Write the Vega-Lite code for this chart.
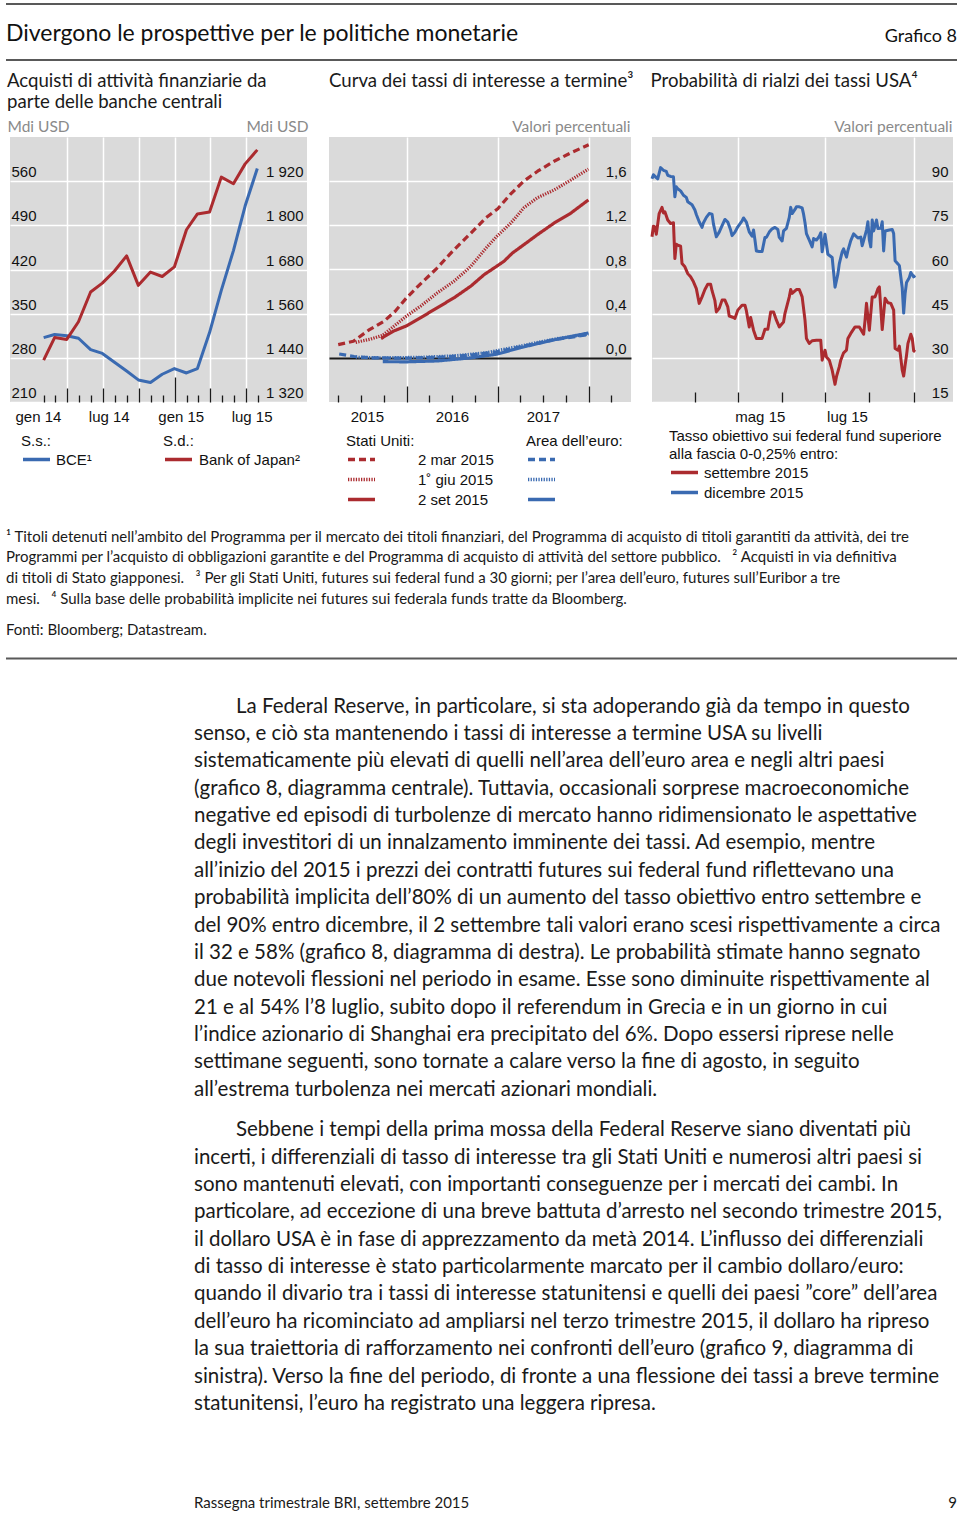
{
  "$schema": "https://vega.github.io/schema/vega-lite/v6.json",
  "background": "#ffffff",
  "padding": {"left": 5, "top": 3, "right": 4, "bottom": 0},
  "spacing": 0,
  "resolve": {"scale": {"color": "independent", "strokeDash": "independent"}},
  "config": {
    "view": {"stroke": null},
    "locale": {"number": {"decimal": ",", "thousands": " ", "grouping": [3], "currency": ["", " €"]}},
    "font": "Liberation Sans",
    "line": {"strokeJoin": "round"},
    "axis": {"domain": false, "labelFont": "Liberation Sans", "labelFontSize": 15, "labelColor": "#111111", "gridColor": "#ffffff", "gridWidth": 1.5, "tickColor": "#1a1a1a", "tickWidth": 1.3, "titleFont": "Lato", "titleFontSize": 15.5, "titleFontWeight": "normal", "titleColor": "#8a8a8a", "labelFlush": false, "labelOverlap": false},
    "legend": {"orient": "none", "titleFont": "Liberation Sans", "titleFontSize": 15, "titleFontWeight": "normal", "titleColor": "#111111", "titleLimit": 400, "labelFont": "Liberation Sans", "labelFontSize": 15, "labelColor": "#111111", "symbolType": "stroke", "symbolStrokeWidth": 3.5, "symbolSize": 729, "clipHeight": 15, "rowPadding": 4, "titlePadding": 3, "padding": 0, "labelLimit": 400, "labelOffset": 5},
    "title": {"font": "Lato", "fontSize": 18.6, "fontWeight": "normal", "color": "#1a1a1a", "anchor": "start", "lineHeight": 21}
  },
  "vconcat": [
    {
      "width": 951, "height": 68,
      "data": {"values": [{"testo": "Divergono le prospettive per le politiche monetarie", "lato": "sinistra"}, {"testo": "Grafico 8", "lato": "destra"}]},
      "layer": [
        {"transform": [{"filter": "datum.lato === 'sinistra'"}], "mark": {"type": "rule", "color": "#595959", "strokeWidth": 2},
         "encoding": {"y": {"datum": 1, "type": "quantitative", "scale": {"domain": [0, 1]}, "axis": null}}},
        {"transform": [{"filter": "datum.lato === 'sinistra'"}], "mark": {"type": "rule", "color": "#595959", "strokeWidth": 2},
         "encoding": {"y": {"datum": 0.1765, "type": "quantitative", "scale": {"domain": [0, 1]}, "axis": null}}},
        {"transform": [{"filter": "datum.lato === 'sinistra'"}], "mark": {"type": "text", "align": "left", "baseline": "alphabetic", "font": "Lato", "fontSize": 23, "color": "#111111"},
         "encoding": {"text": {"field": "testo"}, "x": {"datum": 0, "type": "quantitative", "scale": {"domain": [0, 1]}, "axis": null}, "y": {"datum": 0.4559, "type": "quantitative", "scale": {"domain": [0, 1]}, "axis": null}}},
        {"transform": [{"filter": "datum.lato === 'destra'"}], "mark": {"type": "text", "align": "right", "baseline": "alphabetic", "font": "Lato", "fontSize": 18, "color": "#111111"},
         "encoding": {"text": {"field": "testo"}, "x": {"datum": 1, "type": "quantitative", "scale": {"domain": [0, 1]}, "axis": null}, "y": {"datum": 0.4485, "type": "quantitative", "scale": {"domain": [0, 1]}, "axis": null}}}
      ]
    },
    {
      "hconcat": [
        {"width": 1, "height": 1, "data": {"values": []}, "mark": "text"},
        {
          "width": 297, "height": 265,
          "view": {"fill": "#dadada", "stroke": null},
          "title": {"text": ["Acquisti di attività finanziarie da", "parte delle banche centrali"], "offset": 7},
          "data": {"values": [
            {"data": "2014-01-31", "banca": "BCE", "miliardi": 312}, {"data": "2014-02-28", "banca": "BCE", "miliardi": 317},
            {"data": "2014-03-31", "banca": "BCE", "miliardi": 315}, {"data": "2014-04-30", "banca": "BCE", "miliardi": 311},
            {"data": "2014-05-31", "banca": "BCE", "miliardi": 293}, {"data": "2014-06-30", "banca": "BCE", "miliardi": 287},
            {"data": "2014-07-31", "banca": "BCE", "miliardi": 273}, {"data": "2014-08-31", "banca": "BCE", "miliardi": 259},
            {"data": "2014-09-30", "banca": "BCE", "miliardi": 245}, {"data": "2014-10-31", "banca": "BCE", "miliardi": 241},
            {"data": "2014-11-30", "banca": "BCE", "miliardi": 254}, {"data": "2014-12-31", "banca": "BCE", "miliardi": 263},
            {"data": "2015-01-31", "banca": "BCE", "miliardi": 256}, {"data": "2015-02-28", "banca": "BCE", "miliardi": 263},
            {"data": "2015-03-31", "banca": "BCE", "miliardi": 320}, {"data": "2015-04-30", "banca": "BCE", "miliardi": 387},
            {"data": "2015-05-31", "banca": "BCE", "miliardi": 450}, {"data": "2015-06-30", "banca": "BCE", "miliardi": 521},
            {"data": "2015-07-31", "banca": "BCE", "miliardi": 580},
            {"data": "2014-01-31", "banca": "Bank of Japan", "miliardi": 1434}, {"data": "2014-02-28", "banca": "Bank of Japan", "miliardi": 1495},
            {"data": "2014-03-31", "banca": "Bank of Japan", "miliardi": 1490}, {"data": "2014-04-30", "banca": "Bank of Japan", "miliardi": 1538},
            {"data": "2014-05-31", "banca": "Bank of Japan", "miliardi": 1619}, {"data": "2014-06-30", "banca": "Bank of Japan", "miliardi": 1643},
            {"data": "2014-07-31", "banca": "Bank of Japan", "miliardi": 1676}, {"data": "2014-08-31", "banca": "Bank of Japan", "miliardi": 1717},
            {"data": "2014-09-30", "banca": "Bank of Japan", "miliardi": 1637}, {"data": "2014-10-31", "banca": "Bank of Japan", "miliardi": 1673},
            {"data": "2014-11-30", "banca": "Bank of Japan", "miliardi": 1661}, {"data": "2014-12-31", "banca": "Bank of Japan", "miliardi": 1687},
            {"data": "2015-01-31", "banca": "Bank of Japan", "miliardi": 1788}, {"data": "2015-02-28", "banca": "Bank of Japan", "miliardi": 1831},
            {"data": "2015-03-31", "banca": "Bank of Japan", "miliardi": 1836}, {"data": "2015-04-30", "banca": "Bank of Japan", "miliardi": 1931},
            {"data": "2015-05-31", "banca": "Bank of Japan", "miliardi": 1913}, {"data": "2015-06-30", "banca": "Bank of Japan", "miliardi": 1967},
            {"data": "2015-07-31", "banca": "Bank of Japan", "miliardi": 2005}
          ]},
          "encoding": {
            "x": {"field": "data", "type": "temporal", "title": null,
              "scale": {"domain": [{"year": 2013, "month": 11, "date": 6}, {"year": 2015, "month": 12, "date": 5}]},
              "axis": {"grid": true, "title": null,
                "values": [
                  {"year": 2014, "month": 1, "date": 1}, {"year": 2014, "month": 2, "date": 1}, {"year": 2014, "month": 3, "date": 1},
                  {"year": 2014, "month": 4, "date": 1}, {"year": 2014, "month": 5, "date": 1}, {"year": 2014, "month": 6, "date": 1},
                  {"year": 2014, "month": 7, "date": 1}, {"year": 2014, "month": 8, "date": 1}, {"year": 2014, "month": 9, "date": 1},
                  {"year": 2014, "month": 10, "date": 1}, {"year": 2014, "month": 11, "date": 1}, {"year": 2014, "month": 12, "date": 1},
                  {"year": 2015, "month": 1, "date": 1}, {"year": 2015, "month": 2, "date": 1}, {"year": 2015, "month": 3, "date": 1},
                  {"year": 2015, "month": 4, "date": 1}, {"year": 2015, "month": 5, "date": 1}, {"year": 2015, "month": 6, "date": 1},
                  {"year": 2015, "month": 7, "date": 1}, {"year": 2015, "month": 8, "date": 1}
                ],
                "tickSize": {"expr": "month(datum.value) == 0 ? -25 : (month(datum.value) % 3 == 0 ? -14 : -7)"},
                "tickOpacity": {"condition": {"test": "datum.value < datetime(2014, 0, 15)", "value": 0}, "value": 1},
                "gridOpacity": {"condition": {"test": "month(datum.value) % 3 == 0 && datum.value > datetime(2014, 0, 15)", "value": 1}, "value": 0},
                "labelExpr": "month(datum.value) == 0 ? 'gen ' + timeFormat(datum.value, '%y') : (month(datum.value) == 6 ? 'lug ' + timeFormat(datum.value, '%y') : '')",
                "labelAlign": "center", "labelBaseline": "top", "labelOffset": 6,
                "labelPadding": {"expr": "month(datum.value) == 0 ? 32 : (month(datum.value) % 3 == 0 ? 21 : 14)"}}}
          },
          "layer": [
            {"transform": [{"filter": "datum.banca === 'BCE'"}],
             "mark": {"type": "line", "strokeWidth": 3},
             "encoding": {
               "y": {"field": "miliardi", "type": "quantitative", "scale": {"domain": [210, 630]},
                 "axis": {"orient": "left", "values": [210, 280, 350, 420, 490, 560], "grid": true, "ticks": false, "tickSize": 0,
                   "labelAlign": "left", "labelBaseline": "alphabetic", "labelPadding": -1, "labelOffset": -4.5,
                   "title": "Mdi USD", "titleAngle": 0, "titleAlign": "left", "titleBaseline": "alphabetic", "titleX": -3, "titleY": -6}},
               "color": {"field": "banca", "type": "nominal", "scale": {"range": ["#3a6ab1"]},
                 "legend": {"title": "S.s.:", "legendX": 11, "legendY": 297, "labelOffset": 4, "labelExpr": "'BCE¹'"}}}},
            {"transform": [{"filter": "datum.banca === 'Bank of Japan'"}],
             "mark": {"type": "line", "strokeWidth": 3},
             "encoding": {
               "y": {"field": "miliardi", "type": "quantitative", "scale": {"domain": [1320, 2040]},
                 "axis": {"orient": "right", "values": [1320, 1440, 1560, 1680, 1800, 1920], "format": ",d", "grid": false, "ticks": false, "tickSize": 0,
                   "labelAlign": "right", "labelBaseline": "alphabetic", "labelPadding": -4, "labelOffset": -4.5,
                   "title": "Mdi USD", "titleAngle": 0, "titleAlign": "right", "titleBaseline": "alphabetic", "titleX": 1, "titleY": -6}},
               "color": {"field": "banca", "type": "nominal", "scale": {"range": ["#ab2b2f"]},
                 "legend": {"title": "S.d.:", "legendX": 153, "legendY": 297, "labelOffset": 5, "labelExpr": "'Bank of Japan²'"}}}}
          ],
          "resolve": {"scale": {"y": "independent", "color": "independent"}}
        },
        {"width": 21, "height": 1, "data": {"values": []}, "mark": "text"},
        {
          "width": 302, "height": 265,
          "view": {"fill": "#dadada", "stroke": null},
          "title": {"text": ["Curva dei tassi di interesse a termine³", " "], "offset": 7},
          "data": {"values": [
            {"area": "Stati Uniti", "curva": "2 mar 2015", "data": "2015-04-01", "tasso": 0.12},
            {"area": "Stati Uniti", "curva": "2 mar 2015", "data": "2015-06-01", "tasso": 0.15},
            {"area": "Stati Uniti", "curva": "2 mar 2015", "data": "2015-08-01", "tasso": 0.25},
            {"area": "Stati Uniti", "curva": "2 mar 2015", "data": "2015-10-01", "tasso": 0.33},
            {"area": "Stati Uniti", "curva": "2 mar 2015", "data": "2015-11-15", "tasso": 0.42},
            {"area": "Stati Uniti", "curva": "2 mar 2015", "data": "2016-01-01", "tasso": 0.545},
            {"area": "Stati Uniti", "curva": "2 mar 2015", "data": "2016-03-01", "tasso": 0.68},
            {"area": "Stati Uniti", "curva": "2 mar 2015", "data": "2016-05-01", "tasso": 0.81},
            {"area": "Stati Uniti", "curva": "2 mar 2015", "data": "2016-07-01", "tasso": 0.96},
            {"area": "Stati Uniti", "curva": "2 mar 2015", "data": "2016-09-15", "tasso": 1.13},
            {"area": "Stati Uniti", "curva": "2 mar 2015", "data": "2016-11-15", "tasso": 1.27},
            {"area": "Stati Uniti", "curva": "2 mar 2015", "data": "2017-01-01", "tasso": 1.35},
            {"area": "Stati Uniti", "curva": "2 mar 2015", "data": "2017-02-20", "tasso": 1.48},
            {"area": "Stati Uniti", "curva": "2 mar 2015", "data": "2017-04-15", "tasso": 1.6},
            {"area": "Stati Uniti", "curva": "2 mar 2015", "data": "2017-06-10", "tasso": 1.69},
            {"area": "Stati Uniti", "curva": "2 mar 2015", "data": "2017-08-15", "tasso": 1.78},
            {"area": "Stati Uniti", "curva": "2 mar 2015", "data": "2017-10-20", "tasso": 1.855},
            {"area": "Stati Uniti", "curva": "2 mar 2015", "data": "2018-01-01", "tasso": 1.93},
            {"area": "Stati Uniti", "curva": "1˚ giu 2015", "data": "2015-06-10", "tasso": 0.14},
            {"area": "Stati Uniti", "curva": "1˚ giu 2015", "data": "2015-08-10", "tasso": 0.17},
            {"area": "Stati Uniti", "curva": "1˚ giu 2015", "data": "2015-09-27", "tasso": 0.205},
            {"area": "Stati Uniti", "curva": "1˚ giu 2015", "data": "2016-01-01", "tasso": 0.38},
            {"area": "Stati Uniti", "curva": "1˚ giu 2015", "data": "2016-02-27", "tasso": 0.47},
            {"area": "Stati Uniti", "curva": "1˚ giu 2015", "data": "2016-05-04", "tasso": 0.59},
            {"area": "Stati Uniti", "curva": "1˚ giu 2015", "data": "2016-07-10", "tasso": 0.695},
            {"area": "Stati Uniti", "curva": "1˚ giu 2015", "data": "2016-09-15", "tasso": 0.83},
            {"area": "Stati Uniti", "curva": "1˚ giu 2015", "data": "2016-11-21", "tasso": 1.01},
            {"area": "Stati Uniti", "curva": "1˚ giu 2015", "data": "2016-12-28", "tasso": 1.1},
            {"area": "Stati Uniti", "curva": "1˚ giu 2015", "data": "2017-02-22", "tasso": 1.22},
            {"area": "Stati Uniti", "curva": "1˚ giu 2015", "data": "2017-04-16", "tasso": 1.36},
            {"area": "Stati Uniti", "curva": "1˚ giu 2015", "data": "2017-06-09", "tasso": 1.45},
            {"area": "Stati Uniti", "curva": "1˚ giu 2015", "data": "2017-08-15", "tasso": 1.52},
            {"area": "Stati Uniti", "curva": "1˚ giu 2015", "data": "2017-10-21", "tasso": 1.61},
            {"area": "Stati Uniti", "curva": "1˚ giu 2015", "data": "2017-12-31", "tasso": 1.71},
            {"area": "Stati Uniti", "curva": "2 set 2015", "data": "2015-09-20", "tasso": 0.175},
            {"area": "Stati Uniti", "curva": "2 set 2015", "data": "2015-11-12", "tasso": 0.245},
            {"area": "Stati Uniti", "curva": "2 set 2015", "data": "2016-01-01", "tasso": 0.29},
            {"area": "Stati Uniti", "curva": "2 set 2015", "data": "2016-02-27", "tasso": 0.365},
            {"area": "Stati Uniti", "curva": "2 set 2015", "data": "2016-05-04", "tasso": 0.455},
            {"area": "Stati Uniti", "curva": "2 set 2015", "data": "2016-07-10", "tasso": 0.545},
            {"area": "Stati Uniti", "curva": "2 set 2015", "data": "2016-09-15", "tasso": 0.65},
            {"area": "Stati Uniti", "curva": "2 set 2015", "data": "2016-11-08", "tasso": 0.755},
            {"area": "Stati Uniti", "curva": "2 set 2015", "data": "2016-12-28", "tasso": 0.83},
            {"area": "Stati Uniti", "curva": "2 set 2015", "data": "2017-01-26", "tasso": 0.875},
            {"area": "Stati Uniti", "curva": "2 set 2015", "data": "2017-03-01", "tasso": 0.95},
            {"area": "Stati Uniti", "curva": "2 set 2015", "data": "2017-04-16", "tasso": 1.025},
            {"area": "Stati Uniti", "curva": "2 set 2015", "data": "2017-06-09", "tasso": 1.115},
            {"area": "Stati Uniti", "curva": "2 set 2015", "data": "2017-08-15", "tasso": 1.22},
            {"area": "Stati Uniti", "curva": "2 set 2015", "data": "2017-10-21", "tasso": 1.31},
            {"area": "Stati Uniti", "curva": "2 set 2015", "data": "2017-12-31", "tasso": 1.43},
            {"area": "Area dell’euro", "curva": "2 mar 2015", "data": "2015-04-05", "tasso": 0.035},
            {"area": "Area dell’euro", "curva": "2 mar 2015", "data": "2015-06-04", "tasso": 0.012},
            {"area": "Area dell’euro", "curva": "2 mar 2015", "data": "2015-08-10", "tasso": 0.0},
            {"area": "Area dell’euro", "curva": "2 mar 2015", "data": "2015-12-31", "tasso": -0.003},
            {"area": "Area dell’euro", "curva": "2 mar 2015", "data": "2016-05-04", "tasso": 0.005},
            {"area": "Area dell’euro", "curva": "2 mar 2015", "data": "2016-09-15", "tasso": 0.025},
            {"area": "Area dell’euro", "curva": "2 mar 2015", "data": "2016-12-28", "tasso": 0.055},
            {"area": "Area dell’euro", "curva": "2 mar 2015", "data": "2017-04-03", "tasso": 0.1},
            {"area": "Area dell’euro", "curva": "2 mar 2015", "data": "2017-08-15", "tasso": 0.165},
            {"area": "Area dell’euro", "curva": "2 mar 2015", "data": "2017-12-31", "tasso": 0.21},
            {"area": "Area dell’euro", "curva": "1˚ giu 2015", "data": "2015-06-11", "tasso": 0.006},
            {"area": "Area dell’euro", "curva": "1˚ giu 2015", "data": "2015-09-27", "tasso": 0.0},
            {"area": "Area dell’euro", "curva": "1˚ giu 2015", "data": "2016-02-27", "tasso": 0.005},
            {"area": "Area dell’euro", "curva": "1˚ giu 2015", "data": "2016-07-10", "tasso": 0.018},
            {"area": "Area dell’euro", "curva": "1˚ giu 2015", "data": "2016-11-21", "tasso": 0.048},
            {"area": "Area dell’euro", "curva": "1˚ giu 2015", "data": "2017-04-03", "tasso": 0.108},
            {"area": "Area dell’euro", "curva": "1˚ giu 2015", "data": "2017-08-15", "tasso": 0.17},
            {"area": "Area dell’euro", "curva": "1˚ giu 2015", "data": "2017-12-31", "tasso": 0.215},
            {"area": "Area dell’euro", "curva": "2 set 2015", "data": "2015-09-27", "tasso": -0.035},
            {"area": "Area dell’euro", "curva": "2 set 2015", "data": "2016-01-01", "tasso": -0.036},
            {"area": "Area dell’euro", "curva": "2 set 2015", "data": "2016-05-04", "tasso": -0.028},
            {"area": "Area dell’euro", "curva": "2 set 2015", "data": "2016-09-15", "tasso": 0.0},
            {"area": "Area dell’euro", "curva": "2 set 2015", "data": "2016-12-28", "tasso": 0.033},
            {"area": "Area dell’euro", "curva": "2 set 2015", "data": "2017-04-03", "tasso": 0.093},
            {"area": "Area dell’euro", "curva": "2 set 2015", "data": "2017-08-15", "tasso": 0.163},
            {"area": "Area dell’euro", "curva": "2 set 2015", "data": "2017-12-31", "tasso": 0.225}
          ]},
          "encoding": {
            "x": {"field": "data", "type": "temporal", "title": null,
              "scale": {"domain": [{"year": 2015, "month": 2, "date": 23}, {"year": 2018, "month": 6, "date": 20}]},
              "axis": {"grid": true, "title": null, "tickCount": {"interval": "month", "step": 3},
                "tickSize": {"expr": "month(datum.value) == 0 ? -16 : -7"},
                "gridOpacity": {"condition": {"test": "month(datum.value) == 0", "value": 1}, "value": 0},
                "labelExpr": "month(datum.value) == 6 ? timeFormat(datum.value, '%Y') : ''",
                "labelAlign": "center", "labelBaseline": "top",
                "labelOffset": {"condition": {"test": "year(datum.value) == 2015", "value": 6}, "value": 0},
                "labelPadding": 14}},
            "y": {"field": "tasso", "type": "quantitative", "scale": {"domain": [-0.4, 2.0]},
              "axis": {"orient": "right", "values": [0, 0.4, 0.8, 1.2, 1.6], "format": ".1f", "grid": true,
                "gridColor": {"condition": {"test": "datum.value === 0", "value": "#1a1a1a"}, "value": "#ffffff"},
                "gridWidth": {"condition": {"test": "datum.value === 0", "value": 2}, "value": 1.5},
                "ticks": false, "tickSize": 0, "labelAlign": "right", "labelBaseline": "alphabetic", "labelPadding": -5, "labelOffset": -4.5,
                "title": "Valori percentuali", "titleAngle": 0, "titleAlign": "right", "titleBaseline": "alphabetic", "titleX": -1, "titleY": -6}}
          },
          "layer": [
            {"transform": [{"filter": "datum.area === 'Stati Uniti'"}],
             "mark": {"type": "line", "strokeWidth": 3.2, "color": "#ab2b2f"},
             "encoding": {"strokeDash": {"field": "curva", "type": "nominal",
               "scale": {"domain": ["2 mar 2015", "1˚ giu 2015", "2 set 2015"], "range": [[7, 4], [1.3, 1.3], [1, 0]]},
               "legend": {"title": "Stati Uniti:", "legendX": 17, "legendY": 297, "labelOffset": 41, "symbolStrokeColor": "#ab2b2f"}}}},
            {"transform": [{"filter": "datum.area !== 'Stati Uniti'"}],
             "mark": {"type": "line", "strokeWidth": 3.2, "color": "#3a6ab1"},
             "encoding": {"strokeDash": {"field": "curva", "type": "nominal",
               "scale": {"domain": ["2 mar 2015", "1˚ giu 2015", "2 set 2015"], "range": [[7, 4], [1.3, 1.3], [1, 0]]},
               "legend": {"title": "Area dell’euro:", "legendX": 197, "legendY": 297, "labelExpr": "''", "symbolStrokeColor": "#3a6ab1"}}}}
          ],
          "resolve": {"scale": {"strokeDash": "independent"}}
        },
        {"width": 16, "height": 1, "data": {"values": []}, "mark": "text"},
        {
          "width": 301, "height": 265,
          "view": {"fill": "#dadada", "stroke": null},
          "title": {"text": ["Probabilità di rialzi dei tassi USA⁴", " "], "offset": 7},
          "data": {"values": [
            {"data": "2015-03-02", "scadenza": "dicembre 2015", "probabilita": 90.8},
            {"data": "2015-03-03", "scadenza": "dicembre 2015", "probabilita": 92.2},
            {"data": "2015-03-05", "scadenza": "dicembre 2015", "probabilita": 91.2},
            {"data": "2015-03-06", "scadenza": "dicembre 2015", "probabilita": 90.8},
            {"data": "2015-03-08", "scadenza": "dicembre 2015", "probabilita": 94.6},
            {"data": "2015-03-10", "scadenza": "dicembre 2015", "probabilita": 93.7},
            {"data": "2015-03-12", "scadenza": "dicembre 2015", "probabilita": 93.3},
            {"data": "2015-03-13", "scadenza": "dicembre 2015", "probabilita": 92.0},
            {"data": "2015-03-15", "scadenza": "dicembre 2015", "probabilita": 91.6},
            {"data": "2015-03-17", "scadenza": "dicembre 2015", "probabilita": 91.5},
            {"data": "2015-03-18", "scadenza": "dicembre 2015", "probabilita": 84.7},
            {"data": "2015-03-19", "scadenza": "dicembre 2015", "probabilita": 88.1},
            {"data": "2015-03-20", "scadenza": "dicembre 2015", "probabilita": 87.4},
            {"data": "2015-03-22", "scadenza": "dicembre 2015", "probabilita": 86.7},
            {"data": "2015-03-24", "scadenza": "dicembre 2015", "probabilita": 85.2},
            {"data": "2015-03-26", "scadenza": "dicembre 2015", "probabilita": 84.5},
            {"data": "2015-03-27", "scadenza": "dicembre 2015", "probabilita": 83.0},
            {"data": "2015-03-30", "scadenza": "dicembre 2015", "probabilita": 82.0},
            {"data": "2015-04-01", "scadenza": "dicembre 2015", "probabilita": 80.2},
            {"data": "2015-04-02", "scadenza": "dicembre 2015", "probabilita": 78.7},
            {"data": "2015-04-04", "scadenza": "dicembre 2015", "probabilita": 76.2},
            {"data": "2015-04-06", "scadenza": "dicembre 2015", "probabilita": 74.3},
            {"data": "2015-04-07", "scadenza": "dicembre 2015", "probabilita": 75.9},
            {"data": "2015-04-09", "scadenza": "dicembre 2015", "probabilita": 77.7},
            {"data": "2015-04-11", "scadenza": "dicembre 2015", "probabilita": 79.0},
            {"data": "2015-04-13", "scadenza": "dicembre 2015", "probabilita": 78.8},
            {"data": "2015-04-14", "scadenza": "dicembre 2015", "probabilita": 75.4},
            {"data": "2015-04-16", "scadenza": "dicembre 2015", "probabilita": 71.1},
            {"data": "2015-04-18", "scadenza": "dicembre 2015", "probabilita": 72.7},
            {"data": "2015-04-20", "scadenza": "dicembre 2015", "probabilita": 74.9},
            {"data": "2015-04-22", "scadenza": "dicembre 2015", "probabilita": 77.0},
            {"data": "2015-04-24", "scadenza": "dicembre 2015", "probabilita": 76.1},
            {"data": "2015-04-26", "scadenza": "dicembre 2015", "probabilita": 73.4},
            {"data": "2015-04-27", "scadenza": "dicembre 2015", "probabilita": 71.5},
            {"data": "2015-04-29", "scadenza": "dicembre 2015", "probabilita": 72.7},
            {"data": "2015-05-01", "scadenza": "dicembre 2015", "probabilita": 74.5},
            {"data": "2015-05-04", "scadenza": "dicembre 2015", "probabilita": 76.5},
            {"data": "2015-05-05", "scadenza": "dicembre 2015", "probabilita": 77.5},
            {"data": "2015-05-07", "scadenza": "dicembre 2015", "probabilita": 76.1},
            {"data": "2015-05-09", "scadenza": "dicembre 2015", "probabilita": 72.8},
            {"data": "2015-05-11", "scadenza": "dicembre 2015", "probabilita": 71.3},
            {"data": "2015-05-12", "scadenza": "dicembre 2015", "probabilita": 73.4},
            {"data": "2015-05-13", "scadenza": "dicembre 2015", "probabilita": 70.0},
            {"data": "2015-05-14", "scadenza": "dicembre 2015", "probabilita": 66.3},
            {"data": "2015-05-16", "scadenza": "dicembre 2015", "probabilita": 66.1},
            {"data": "2015-05-18", "scadenza": "dicembre 2015", "probabilita": 66.1},
            {"data": "2015-05-20", "scadenza": "dicembre 2015", "probabilita": 70.9},
            {"data": "2015-05-21", "scadenza": "dicembre 2015", "probabilita": 70.9},
            {"data": "2015-05-23", "scadenza": "dicembre 2015", "probabilita": 72.7},
            {"data": "2015-05-25", "scadenza": "dicembre 2015", "probabilita": 73.8},
            {"data": "2015-05-27", "scadenza": "dicembre 2015", "probabilita": 74.3},
            {"data": "2015-05-29", "scadenza": "dicembre 2015", "probabilita": 73.6},
            {"data": "2015-05-30", "scadenza": "dicembre 2015", "probabilita": 70.9},
            {"data": "2015-06-01", "scadenza": "dicembre 2015", "probabilita": 69.7},
            {"data": "2015-06-02", "scadenza": "dicembre 2015", "probabilita": 73.1},
            {"data": "2015-06-04", "scadenza": "dicembre 2015", "probabilita": 74.0},
            {"data": "2015-06-06", "scadenza": "dicembre 2015", "probabilita": 77.7},
            {"data": "2015-06-07", "scadenza": "dicembre 2015", "probabilita": 81.1},
            {"data": "2015-06-08", "scadenza": "dicembre 2015", "probabilita": 79.0},
            {"data": "2015-06-10", "scadenza": "dicembre 2015", "probabilita": 80.4},
            {"data": "2015-06-11", "scadenza": "dicembre 2015", "probabilita": 81.3},
            {"data": "2015-06-13", "scadenza": "dicembre 2015", "probabilita": 81.3},
            {"data": "2015-06-15", "scadenza": "dicembre 2015", "probabilita": 80.9},
            {"data": "2015-06-16", "scadenza": "dicembre 2015", "probabilita": 78.8},
            {"data": "2015-06-17", "scadenza": "dicembre 2015", "probabilita": 75.9},
            {"data": "2015-06-18", "scadenza": "dicembre 2015", "probabilita": 72.2},
            {"data": "2015-06-20", "scadenza": "dicembre 2015", "probabilita": 70.0},
            {"data": "2015-06-22", "scadenza": "dicembre 2015", "probabilita": 67.7},
            {"data": "2015-06-23", "scadenza": "dicembre 2015", "probabilita": 70.5},
            {"data": "2015-06-25", "scadenza": "dicembre 2015", "probabilita": 70.0},
            {"data": "2015-06-27", "scadenza": "dicembre 2015", "probabilita": 71.3},
            {"data": "2015-06-28", "scadenza": "dicembre 2015", "probabilita": 72.5},
            {"data": "2015-06-29", "scadenza": "dicembre 2015", "probabilita": 66.0},
            {"data": "2015-07-01", "scadenza": "dicembre 2015", "probabilita": 72.0},
            {"data": "2015-07-02", "scadenza": "dicembre 2015", "probabilita": 68.6},
            {"data": "2015-07-03", "scadenza": "dicembre 2015", "probabilita": 65.2},
            {"data": "2015-07-06", "scadenza": "dicembre 2015", "probabilita": 64.1},
            {"data": "2015-07-07", "scadenza": "dicembre 2015", "probabilita": 59.0},
            {"data": "2015-07-08", "scadenza": "dicembre 2015", "probabilita": 54.0},
            {"data": "2015-07-10", "scadenza": "dicembre 2015", "probabilita": 58.5},
            {"data": "2015-07-11", "scadenza": "dicembre 2015", "probabilita": 62.0},
            {"data": "2015-07-13", "scadenza": "dicembre 2015", "probabilita": 66.0},
            {"data": "2015-07-14", "scadenza": "dicembre 2015", "probabilita": 67.0},
            {"data": "2015-07-16", "scadenza": "dicembre 2015", "probabilita": 64.2},
            {"data": "2015-07-17", "scadenza": "dicembre 2015", "probabilita": 66.4},
            {"data": "2015-07-19", "scadenza": "dicembre 2015", "probabilita": 69.8},
            {"data": "2015-07-21", "scadenza": "dicembre 2015", "probabilita": 72.1},
            {"data": "2015-07-24", "scadenza": "dicembre 2015", "probabilita": 70.7},
            {"data": "2015-07-26", "scadenza": "dicembre 2015", "probabilita": 71.0},
            {"data": "2015-07-27", "scadenza": "dicembre 2015", "probabilita": 68.1},
            {"data": "2015-07-28", "scadenza": "dicembre 2015", "probabilita": 69.8},
            {"data": "2015-07-30", "scadenza": "dicembre 2015", "probabilita": 73.4},
            {"data": "2015-07-31", "scadenza": "dicembre 2015", "probabilita": 76.2},
            {"data": "2015-08-01", "scadenza": "dicembre 2015", "probabilita": 70.0},
            {"data": "2015-08-02", "scadenza": "dicembre 2015", "probabilita": 67.7},
            {"data": "2015-08-03", "scadenza": "dicembre 2015", "probabilita": 76.8},
            {"data": "2015-08-04", "scadenza": "dicembre 2015", "probabilita": 73.1},
            {"data": "2015-08-06", "scadenza": "dicembre 2015", "probabilita": 76.8},
            {"data": "2015-08-07", "scadenza": "dicembre 2015", "probabilita": 73.9},
            {"data": "2015-08-09", "scadenza": "dicembre 2015", "probabilita": 74.0},
            {"data": "2015-08-10", "scadenza": "dicembre 2015", "probabilita": 76.2},
            {"data": "2015-08-11", "scadenza": "dicembre 2015", "probabilita": 66.3},
            {"data": "2015-08-12", "scadenza": "dicembre 2015", "probabilita": 73.1},
            {"data": "2015-08-15", "scadenza": "dicembre 2015", "probabilita": 73.4},
            {"data": "2015-08-17", "scadenza": "dicembre 2015", "probabilita": 73.6},
            {"data": "2015-08-18", "scadenza": "dicembre 2015", "probabilita": 72.2},
            {"data": "2015-08-19", "scadenza": "dicembre 2015", "probabilita": 63.0},
            {"data": "2015-08-21", "scadenza": "dicembre 2015", "probabilita": 61.9},
            {"data": "2015-08-22", "scadenza": "dicembre 2015", "probabilita": 61.3},
            {"data": "2015-08-24", "scadenza": "dicembre 2015", "probabilita": 53.7},
            {"data": "2015-08-25", "scadenza": "dicembre 2015", "probabilita": 45.2},
            {"data": "2015-08-26", "scadenza": "dicembre 2015", "probabilita": 51.7},
            {"data": "2015-08-27", "scadenza": "dicembre 2015", "probabilita": 55.6},
            {"data": "2015-08-29", "scadenza": "dicembre 2015", "probabilita": 57.3},
            {"data": "2015-08-30", "scadenza": "dicembre 2015", "probabilita": 59.0},
            {"data": "2015-09-01", "scadenza": "dicembre 2015", "probabilita": 57.5},
            {"data": "2015-09-02", "scadenza": "dicembre 2015", "probabilita": 58.0},
            {"data": "2015-03-02", "scadenza": "settembre 2015", "probabilita": 71.1},
            {"data": "2015-03-03", "scadenza": "settembre 2015", "probabilita": 74.7},
            {"data": "2015-03-04", "scadenza": "settembre 2015", "probabilita": 74.5},
            {"data": "2015-03-05", "scadenza": "settembre 2015", "probabilita": 72.0},
            {"data": "2015-03-06", "scadenza": "settembre 2015", "probabilita": 75.4},
            {"data": "2015-03-07", "scadenza": "settembre 2015", "probabilita": 79.0},
            {"data": "2015-03-09", "scadenza": "settembre 2015", "probabilita": 81.1},
            {"data": "2015-03-10", "scadenza": "settembre 2015", "probabilita": 79.2},
            {"data": "2015-03-11", "scadenza": "settembre 2015", "probabilita": 79.6},
            {"data": "2015-03-13", "scadenza": "settembre 2015", "probabilita": 76.8},
            {"data": "2015-03-15", "scadenza": "settembre 2015", "probabilita": 75.6},
            {"data": "2015-03-17", "scadenza": "settembre 2015", "probabilita": 75.9},
            {"data": "2015-03-18", "scadenza": "settembre 2015", "probabilita": 63.7},
            {"data": "2015-03-19", "scadenza": "settembre 2015", "probabilita": 68.6},
            {"data": "2015-03-20", "scadenza": "settembre 2015", "probabilita": 68.3},
            {"data": "2015-03-22", "scadenza": "settembre 2015", "probabilita": 67.9},
            {"data": "2015-03-23", "scadenza": "settembre 2015", "probabilita": 62.0},
            {"data": "2015-03-25", "scadenza": "settembre 2015", "probabilita": 60.9},
            {"data": "2015-03-27", "scadenza": "settembre 2015", "probabilita": 58.6},
            {"data": "2015-03-29", "scadenza": "settembre 2015", "probabilita": 57.5},
            {"data": "2015-03-31", "scadenza": "settembre 2015", "probabilita": 55.8},
            {"data": "2015-04-02", "scadenza": "settembre 2015", "probabilita": 53.5},
            {"data": "2015-04-04", "scadenza": "settembre 2015", "probabilita": 48.5},
            {"data": "2015-04-06", "scadenza": "settembre 2015", "probabilita": 50.7},
            {"data": "2015-04-08", "scadenza": "settembre 2015", "probabilita": 53.2},
            {"data": "2015-04-10", "scadenza": "settembre 2015", "probabilita": 55.0},
            {"data": "2015-04-12", "scadenza": "settembre 2015", "probabilita": 55.0},
            {"data": "2015-04-13", "scadenza": "settembre 2015", "probabilita": 52.8},
            {"data": "2015-04-15", "scadenza": "settembre 2015", "probabilita": 49.4},
            {"data": "2015-04-16", "scadenza": "settembre 2015", "probabilita": 45.6},
            {"data": "2015-04-18", "scadenza": "settembre 2015", "probabilita": 46.8},
            {"data": "2015-04-20", "scadenza": "settembre 2015", "probabilita": 49.6},
            {"data": "2015-04-22", "scadenza": "settembre 2015", "probabilita": 49.6},
            {"data": "2015-04-24", "scadenza": "settembre 2015", "probabilita": 47.3},
            {"data": "2015-04-25", "scadenza": "settembre 2015", "probabilita": 44.2},
            {"data": "2015-04-28", "scadenza": "settembre 2015", "probabilita": 43.7},
            {"data": "2015-04-29", "scadenza": "settembre 2015", "probabilita": 43.4},
            {"data": "2015-05-01", "scadenza": "settembre 2015", "probabilita": 46.2},
            {"data": "2015-05-04", "scadenza": "settembre 2015", "probabilita": 47.9},
            {"data": "2015-05-06", "scadenza": "settembre 2015", "probabilita": 47.9},
            {"data": "2015-05-07", "scadenza": "settembre 2015", "probabilita": 46.0},
            {"data": "2015-05-09", "scadenza": "settembre 2015", "probabilita": 40.5},
            {"data": "2015-05-10", "scadenza": "settembre 2015", "probabilita": 43.7},
            {"data": "2015-05-12", "scadenza": "settembre 2015", "probabilita": 39.4},
            {"data": "2015-05-14", "scadenza": "settembre 2015", "probabilita": 36.6},
            {"data": "2015-05-16", "scadenza": "settembre 2015", "probabilita": 36.6},
            {"data": "2015-05-18", "scadenza": "settembre 2015", "probabilita": 36.6},
            {"data": "2015-05-20", "scadenza": "settembre 2015", "probabilita": 39.7},
            {"data": "2015-05-22", "scadenza": "settembre 2015", "probabilita": 39.7},
            {"data": "2015-05-24", "scadenza": "settembre 2015", "probabilita": 45.6},
            {"data": "2015-05-26", "scadenza": "settembre 2015", "probabilita": 45.6},
            {"data": "2015-05-28", "scadenza": "settembre 2015", "probabilita": 42.8},
            {"data": "2015-05-30", "scadenza": "settembre 2015", "probabilita": 40.5},
            {"data": "2015-06-02", "scadenza": "settembre 2015", "probabilita": 42.2},
            {"data": "2015-06-03", "scadenza": "settembre 2015", "probabilita": 45.1},
            {"data": "2015-06-06", "scadenza": "settembre 2015", "probabilita": 50.7},
            {"data": "2015-06-07", "scadenza": "settembre 2015", "probabilita": 53.2},
            {"data": "2015-06-08", "scadenza": "settembre 2015", "probabilita": 51.9},
            {"data": "2015-06-11", "scadenza": "settembre 2015", "probabilita": 53.2},
            {"data": "2015-06-13", "scadenza": "settembre 2015", "probabilita": 53.2},
            {"data": "2015-06-15", "scadenza": "settembre 2015", "probabilita": 50.7},
            {"data": "2015-06-17", "scadenza": "settembre 2015", "probabilita": 42.8},
            {"data": "2015-06-18", "scadenza": "settembre 2015", "probabilita": 36.6},
            {"data": "2015-06-20", "scadenza": "settembre 2015", "probabilita": 34.9},
            {"data": "2015-06-22", "scadenza": "settembre 2015", "probabilita": 35.8},
            {"data": "2015-06-25", "scadenza": "settembre 2015", "probabilita": 36.0},
            {"data": "2015-06-28", "scadenza": "settembre 2015", "probabilita": 36.0},
            {"data": "2015-06-29", "scadenza": "settembre 2015", "probabilita": 29.2},
            {"data": "2015-07-01", "scadenza": "settembre 2015", "probabilita": 32.6},
            {"data": "2015-07-02", "scadenza": "settembre 2015", "probabilita": 30.3},
            {"data": "2015-07-04", "scadenza": "settembre 2015", "probabilita": 29.2},
            {"data": "2015-07-06", "scadenza": "settembre 2015", "probabilita": 25.8},
            {"data": "2015-07-08", "scadenza": "settembre 2015", "probabilita": 21.0},
            {"data": "2015-07-09", "scadenza": "settembre 2015", "probabilita": 23.6},
            {"data": "2015-07-11", "scadenza": "settembre 2015", "probabilita": 27.0},
            {"data": "2015-07-12", "scadenza": "settembre 2015", "probabilita": 29.2},
            {"data": "2015-07-14", "scadenza": "settembre 2015", "probabilita": 31.7},
            {"data": "2015-07-16", "scadenza": "settembre 2015", "probabilita": 32.6},
            {"data": "2015-07-17", "scadenza": "settembre 2015", "probabilita": 36.6},
            {"data": "2015-07-19", "scadenza": "settembre 2015", "probabilita": 38.3},
            {"data": "2015-07-22", "scadenza": "settembre 2015", "probabilita": 40.5},
            {"data": "2015-07-25", "scadenza": "settembre 2015", "probabilita": 40.5},
            {"data": "2015-07-28", "scadenza": "settembre 2015", "probabilita": 38.0},
            {"data": "2015-07-29", "scadenza": "settembre 2015", "probabilita": 42.8},
            {"data": "2015-07-30", "scadenza": "settembre 2015", "probabilita": 48.5},
            {"data": "2015-07-31", "scadenza": "settembre 2015", "probabilita": 43.9},
            {"data": "2015-08-01", "scadenza": "settembre 2015", "probabilita": 39.4},
            {"data": "2015-08-03", "scadenza": "settembre 2015", "probabilita": 50.7},
            {"data": "2015-08-05", "scadenza": "settembre 2015", "probabilita": 50.7},
            {"data": "2015-08-07", "scadenza": "settembre 2015", "probabilita": 53.5},
            {"data": "2015-08-08", "scadenza": "settembre 2015", "probabilita": 54.1},
            {"data": "2015-08-10", "scadenza": "settembre 2015", "probabilita": 39.6},
            {"data": "2015-08-12", "scadenza": "settembre 2015", "probabilita": 50.2},
            {"data": "2015-08-14", "scadenza": "settembre 2015", "probabilita": 48.7},
            {"data": "2015-08-16", "scadenza": "settembre 2015", "probabilita": 48.5},
            {"data": "2015-08-18", "scadenza": "settembre 2015", "probabilita": 46.2},
            {"data": "2015-08-19", "scadenza": "settembre 2015", "probabilita": 33.2},
            {"data": "2015-08-21", "scadenza": "settembre 2015", "probabilita": 32.6},
            {"data": "2015-08-22", "scadenza": "settembre 2015", "probabilita": 34.0},
            {"data": "2015-08-24", "scadenza": "settembre 2015", "probabilita": 25.8},
            {"data": "2015-08-25", "scadenza": "settembre 2015", "probabilita": 23.8},
            {"data": "2015-08-26", "scadenza": "settembre 2015", "probabilita": 27.5},
            {"data": "2015-08-27", "scadenza": "settembre 2015", "probabilita": 30.9},
            {"data": "2015-08-28", "scadenza": "settembre 2015", "probabilita": 34.9},
            {"data": "2015-08-30", "scadenza": "settembre 2015", "probabilita": 38.0},
            {"data": "2015-08-31", "scadenza": "settembre 2015", "probabilita": 36.6},
            {"data": "2015-09-01", "scadenza": "settembre 2015", "probabilita": 32.4},
            {"data": "2015-09-02", "scadenza": "settembre 2015", "probabilita": 32.0}
          ]},
          "mark": {"type": "line", "strokeWidth": 3},
          "encoding": {
            "x": {"field": "data", "type": "temporal", "title": null,
              "scale": {"domain": [{"year": 2015, "month": 3, "date": 2}, {"year": 2015, "month": 9, "date": 28, "hours": 12}]},
              "axis": {"grid": true, "title": null, "tickCount": {"interval": "month", "step": 1}, "tickSize": -10,
                "gridOpacity": {"condition": {"test": "month(datum.value) % 2 == 0", "value": 1}, "value": 0},
                "labelExpr": "month(datum.value) == 4 ? 'mag ' + timeFormat(datum.value, '%y') : (month(datum.value) == 6 ? 'lug ' + timeFormat(datum.value, '%y') : '')",
                "labelAlign": "center", "labelBaseline": "top", "labelOffset": 22, "labelPadding": 17}},
            "y": {"field": "probabilita", "type": "quantitative", "scale": {"domain": [15, 105]},
              "axis": {"orient": "right", "values": [15, 30, 45, 60, 75, 90], "grid": true, "ticks": false, "tickSize": 0,
                "labelAlign": "right", "labelBaseline": "alphabetic", "labelPadding": -5, "labelOffset": -4.5,
                "title": "Valori percentuali", "titleAngle": 0, "titleAlign": "right", "titleBaseline": "alphabetic", "titleX": -1, "titleY": -6}},
            "color": {"field": "scadenza", "type": "nominal",
              "scale": {"domain": ["settembre 2015", "dicembre 2015"], "range": ["#ab2b2f", "#3a6ab1"]},
              "legend": {"title": ["Tasso obiettivo sui federal fund superiore", "alla fascia 0-0,25% entro:"], "titleLineHeight": 18, "legendX": 17, "legendY": 292, "labelOffset": 4}}
          }
        }
      ],
      "spacing": 0,
      "resolve": {"scale": {"color": "independent", "strokeDash": "independent"}}
    },
    {
      "width": 951, "height": 100.95,
      "data": {"values": [
        {"riga": 1, "testo": "¹ Titoli detenuti nell’ambito del Programma per il mercato dei titoli finanziari, del Programma di acquisto di titoli garantiti da attività, dei tre"},
        {"riga": 2, "testo": "Programmi per l’acquisto di obbligazioni garantite e del Programma di acquisto di attività del settore pubblico.\u00a0\u00a0\u00a0² Acquisti in via definitiva"},
        {"riga": 3, "testo": "di titoli di Stato giapponesi.\u00a0\u00a0\u00a0³ Per gli Stati Uniti, futures sui federal fund a 30 giorni; per l’area dell’euro, futures sull’Euribor a tre"},
        {"riga": 4, "testo": "mesi.\u00a0\u00a0\u00a0⁴ Sulla base delle probabilità implicite nei futures sui federala funds tratte da Bloomberg."}
      ]},
      "mark": {"type": "text", "align": "left", "baseline": "middle", "font": "Lato", "fontSize": 15, "color": "#1a1a1a"},
      "encoding": {
        "text": {"field": "testo"},
        "x": {"datum": 0, "type": "quantitative", "scale": {"domain": [0, 1]}, "axis": null},
        "y": {"field": "riga", "type": "ordinal", "scale": {"type": "point", "padding": 0.9384, "align": 0.7336}, "axis": null}
      }
    },
    {
      "width": 951, "height": 83.87,
      "data": {"values": [{"elemento": "fonti", "testo": "Fonti: Bloomberg; Datastream."}, {"elemento": "filetto", "testo": ""}]},
      "encoding": {"y": {"field": "elemento", "type": "nominal", "scale": {"type": "point", "domain": ["fonti", "filetto"], "padding": 1.7668, "align": 0.3832}, "axis": null}},
      "layer": [
        {"transform": [{"filter": "datum.elemento === 'fonti'"}],
         "mark": {"type": "text", "align": "left", "baseline": "middle", "font": "Lato", "fontSize": 15, "color": "#1a1a1a"},
         "encoding": {"text": {"field": "testo"}, "x": {"datum": 0, "type": "quantitative", "scale": {"domain": [0, 1]}, "axis": null}}},
        {"transform": [{"filter": "datum.elemento === 'filetto'"}],
         "mark": {"type": "rule", "color": "#595959", "strokeWidth": 2}, "encoding": {}}
      ]
    },
    {
      "hconcat": [
        {"width": 188, "height": 1, "data": {"values": []}, "mark": "text"},
        {
          "vconcat": [
            {
              "width": 763, "height": 410.4,
              "data": {"values": [
                {"riga": 1, "testo": "\u200b\u00a0\u00a0\u00a0\u00a0\u00a0\u00a0\u00a0\u00a0La Federal Reserve, in particolare, si sta adoperando già da tempo in questo"},
                {"riga": 2, "testo": "senso, e ciò sta mantenendo i tassi di interesse a termine USA su livelli"},
                {"riga": 3, "testo": "sistematicamente più elevati di quelli nell’area dell’euro area e negli altri paesi"},
                {"riga": 4, "testo": "(grafico 8, diagramma centrale). Tuttavia, occasionali sorprese macroeconomiche"},
                {"riga": 5, "testo": "negative ed episodi di turbolenze di mercato hanno ridimensionato le aspettative"},
                {"riga": 6, "testo": "degli investitori di un innalzamento imminente dei tassi. Ad esempio, mentre"},
                {"riga": 7, "testo": "all’inizio del 2015 i prezzi dei contratti futures sui federal fund riflettevano una"},
                {"riga": 8, "testo": "probabilità implicita dell’80% di un aumento del tasso obiettivo entro settembre e"},
                {"riga": 9, "testo": "del 90% entro dicembre, il 2 settembre tali valori erano scesi rispettivamente a circa"},
                {"riga": 10, "testo": "il 32 e 58% (grafico 8, diagramma di destra). Le probabilità stimate hanno segnato"},
                {"riga": 11, "testo": "due notevoli flessioni nel periodo in esame. Esse sono diminuite rispettivamente al"},
                {"riga": 12, "testo": "21 e al 54% l’8 luglio, subito dopo il referendum in Grecia e in un giorno in cui"},
                {"riga": 13, "testo": "l’indice azionario di Shanghai era precipitato del 6%. Dopo essersi riprese nelle"},
                {"riga": 14, "testo": "settimane seguenti, sono tornate a calare verso la fine di agosto, in seguito"},
                {"riga": 15, "testo": "all’estrema turbolenza nei mercati azionari mondiali."}
              ]},
              "mark": {"type": "text", "align": "left", "baseline": "middle", "font": "Lato", "fontSize": 20.5, "color": "#1a1a1a"},
              "encoding": {
                "text": {"field": "testo"},
                "x": {"datum": 0, "type": "quantitative", "scale": {"domain": [0, 1]}, "axis": null},
                "y": {"field": "riga", "type": "ordinal", "scale": {"type": "point", "padding": 0.5}, "axis": null}
              }
            },
            {
              "width": 763, "height": 313.56,
              "data": {"values": [
                {"riga": 1, "testo": "\u200b\u00a0\u00a0\u00a0\u00a0\u00a0\u00a0\u00a0\u00a0Sebbene i tempi della prima mossa della Federal Reserve siano diventati più"},
                {"riga": 2, "testo": "incerti, i differenziali di tasso di interesse tra gli Stati Uniti e numerosi altri paesi si"},
                {"riga": 3, "testo": "sono mantenuti elevati, con importanti conseguenze per i mercati dei cambi. In"},
                {"riga": 4, "testo": "particolare, ad eccezione di una breve battuta d’arresto nel secondo trimestre 2015,"},
                {"riga": 5, "testo": "il dollaro USA è in fase di apprezzamento da metà 2014. L’influsso dei differenziali"},
                {"riga": 6, "testo": "di tasso di interesse è stato particolarmente marcato per il cambio dollaro/euro:"},
                {"riga": 7, "testo": "quando il divario tra i tassi di interesse statunitensi e quelli dei paesi ”core” dell’area"},
                {"riga": 8, "testo": "dell’euro ha ricominciato ad ampliarsi nel terzo trimestre 2015, il dollaro ha ripreso"},
                {"riga": 9, "testo": "la sua traiettoria di rafforzamento nei confronti dell’euro (grafico 9, diagramma di"},
                {"riga": 10, "testo": "sinistra). Verso la fine del periodo, di fronte a una flessione dei tassi a breve termine"},
                {"riga": 11, "testo": "statunitensi, l’euro ha registrato una leggera ripresa."}
              ]},
              "mark": {"type": "text", "align": "left", "baseline": "middle", "font": "Lato", "fontSize": 20.5, "color": "#1a1a1a"},
              "encoding": {
                "text": {"field": "testo"},
                "x": {"datum": 0, "type": "quantitative", "scale": {"domain": [0, 1]}, "axis": null},
                "y": {"field": "riga", "type": "ordinal", "scale": {"type": "point", "padding": 0.7303, "align": 0.6577}, "axis": null}
              }
            },
            {
              "width": 763, "height": 95.72,
              "data": {"values": [{"testo": "Rassegna trimestrale BRI, settembre 2015", "lato": "sinistra"}, {"testo": "9", "lato": "destra"}]},
              "layer": [
                {"transform": [{"filter": "datum.lato === 'sinistra'"}],
                 "mark": {"type": "text", "align": "left", "baseline": "middle", "font": "Lato", "fontSize": 15, "color": "#1a1a1a"},
                 "encoding": {"text": {"field": "testo"}, "x": {"datum": 0, "type": "quantitative", "scale": {"domain": [0, 1]}, "axis": null}, "y": {"datum": 0.1149, "type": "quantitative", "scale": {"domain": [0, 1]}, "axis": null}}},
                {"transform": [{"filter": "datum.lato === 'destra'"}],
                 "mark": {"type": "text", "align": "right", "baseline": "middle", "font": "Lato", "fontSize": 15, "color": "#1a1a1a"},
                 "encoding": {"text": {"field": "testo"}, "x": {"datum": 1, "type": "quantitative", "scale": {"domain": [0, 1]}, "axis": null}, "y": {"datum": 0.1149, "type": "quantitative", "scale": {"domain": [0, 1]}, "axis": null}}}
              ]
            }
          ],
          "spacing": 0
        }
      ],
      "spacing": 0
    }
  ]
}
